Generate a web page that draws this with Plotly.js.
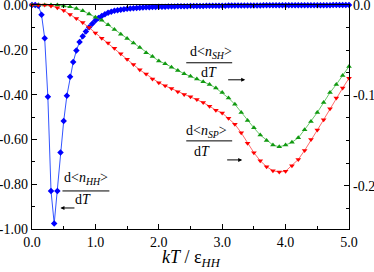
<!DOCTYPE html>
<html>
<head>
<meta charset="utf-8">
<script src="https://cdn.plot.ly/plotly-3.0.1.min.js"></script>
<style>html,body{margin:0;padding:0;background:#fff;}#chart{width:374px;height:272px;}</style>
</head>
<body>
<div id="chart"></div>
<script>
// ---- data ----
const xHH = [0.00,0.05,0.10,0.15,0.20,0.25,0.30,0.35,0.40,0.45,0.50,0.55,0.60,0.65,0.70,0.75,0.80,0.85,0.90,0.95,
1.00,1.05,1.10,1.15,1.20,1.25,1.30,1.35,1.40,1.45,1.50,1.55,1.60,1.65,1.70,1.75,1.80,1.85,1.90,1.95,
2.00,2.05,2.10,2.15,2.20,2.25,2.30,2.35,2.40,2.45,2.50,2.55,2.60,2.65,2.70,2.75,2.80,2.85,2.90,2.95,
3.00,3.05,3.10,3.15,3.20,3.25,3.30,3.35,3.40,3.45,3.50,3.55,3.60,3.65,3.70,3.75,3.80,3.85,3.90,3.95,
4.00,4.05,4.10,4.15,4.20,4.25,4.30,4.35,4.40,4.45,4.50,4.55,4.60,4.65,4.70,4.75,4.80,4.85,4.90,4.95,5.00];
const dnHH = [0,0,-0.003,-0.043,-0.148,-0.41,-0.83,-0.976,-0.83,-0.658,-0.518,-0.405,-0.32,-0.255,-0.203,-0.165,-0.14,-0.118,-0.099,-0.084,
-0.069,-0.058,-0.049,-0.041,-0.035,-0.030,-0.026,-0.023,-0.021,-0.019,-0.017,-0.0155,-0.014,-0.013,-0.012,-0.011,-0.010,-0.0095,-0.009,-0.0085,
-0.008,-0.0077,-0.0073,-0.007,-0.0066,-0.0063,-0.006,-0.0057,-0.0054,-0.0051,-0.0048,-0.0046,-0.0044,-0.0042,-0.004,-0.0038,-0.0036,-0.0034,-0.0032,-0.003,
-0.0029,-0.0028,-0.0027,-0.0026,-0.0025,-0.0024,-0.0023,-0.0022,-0.0021,-0.002,-0.0019,-0.0018,-0.0017,-0.0016,-0.0015,-0.0014,-0.0013,-0.0013,-0.0012,-0.0012,
-0.0011,-0.0011,-0.001,-0.001,-0.0009,-0.0009,-0.0008,-0.0008,-0.0008,-0.0007,-0.0007,-0.0007,-0.0006,-0.0006,-0.0006,-0.0005,-0.0005,-0.0005,-0.0005,-0.0004,-0.0004];

const xS = [0.0,0.1,0.2,0.3,0.4,0.5,0.6,0.7,0.8,0.9,1.0,1.1,1.2,1.3,1.4,1.5,1.6,1.7,1.8,1.9,
2.0,2.1,2.2,2.3,2.4,2.5,2.6,2.7,2.8,2.9,3.0,3.1,3.2,3.3,3.4,3.5,3.6,3.7,3.8,3.9,
4.0,4.1,4.2,4.3,4.4,4.5,4.6,4.7,4.8,4.9,5.0];
const dnSH = [0,0,0,0,0,-0.001,-0.002,-0.004,-0.0065,-0.010,-0.0135,-0.017,-0.022,-0.027,-0.0325,-0.037,-0.042,-0.047,-0.053,-0.057,
-0.062,-0.065,-0.069,-0.0725,-0.076,-0.079,-0.082,-0.085,-0.088,-0.092,-0.097,-0.103,-0.110,-0.119,-0.128,-0.136,-0.144,-0.150,-0.155,-0.157,
-0.155,-0.152,-0.147,-0.138,-0.129,-0.119,-0.108,-0.097,-0.088,-0.078,-0.068];
const dnSP = [0,0,0,-0.001,-0.003,-0.006,-0.0105,-0.015,-0.0195,-0.025,-0.031,-0.0367,-0.042,-0.048,-0.054,-0.060,-0.066,-0.0718,-0.0765,-0.082,
-0.086,-0.0895,-0.0925,-0.096,-0.099,-0.1015,-0.1045,-0.108,-0.112,-0.1165,-0.1195,-0.1255,-0.132,-0.1415,-0.153,-0.1635,-0.1725,-0.179,-0.1835,-0.185,
-0.184,-0.178,-0.171,-0.161,-0.149,-0.1385,-0.127,-0.115,-0.103,-0.092,-0.081];

const xTickVals = [0,1,2,3,4,5];
const xTickText = ['0.0','1.0','2.0','3.0','4.0','5.0'];
const yTickVals = [0,-0.2,-0.4,-0.6,-0.8,-1.0];
const yTickText = ['0.00','-0.20','-0.40','-0.60','-0.80','-1.00'];
const y2TickVals = [0,-0.1,-0.2];
const y2TickText = ['0.0','-0.1','-0.2'];
const xTitle = '<i>kT</i> / ε<sub><i>HH</i></sub>';

// ---- layout helpers ----
const W = 374, H = 272, L = 31.5, R = 349, T = 5.3, B = 229;
const px = v => (v - L) / (R - L);
const py = v => (B - v) / (B - T);
const serif = '"Liberation Serif", "Times New Roman", Times, serif';

const traces = [
  {x: xHH, y: dnHH, type: 'scatter', mode: 'lines+markers', yaxis: 'y', cliponaxis: false,
   line: {color: '#3355ff', width: 1}, marker: {symbol: 'diamond', size: 5, color: '#0000ff'}},
  {x: xS, y: dnSH, type: 'scatter', mode: 'lines+markers', yaxis: 'y2', cliponaxis: false,
   line: {color: '#44bb44', width: 0.8}, marker: {symbol: 'triangle-up', size: 5, color: '#119911'}},
  {x: xS, y: dnSP, type: 'scatter', mode: 'lines+markers', yaxis: 'y2', cliponaxis: false,
   line: {color: '#ff4444', width: 0.8}, marker: {symbol: 'triangle-down', size: 5, color: '#ff0000'}}
];

function frac(num, cx1, ny, cx2, dy, lx0, lx1, ly) {
  return {
    ann: [
      {xref: 'paper', yref: 'paper', x: px(cx1), y: py(ny), text: num, showarrow: false,
       xanchor: 'center', yanchor: 'middle', font: {family: serif, size: 14, color: '#000'}},
      {xref: 'paper', yref: 'paper', x: px(cx2), y: py(dy), text: 'd<i>T</i>', showarrow: false,
       xanchor: 'center', yanchor: 'middle', font: {family: serif, size: 14, color: '#000'}}
    ],
    shape: {type: 'line', xref: 'paper', yref: 'paper', x0: px(lx0), x1: px(lx1), y0: py(ly), y1: py(ly),
            line: {color: '#000', width: 1}}
  };
}
function arrow(hx, hy, tx, ty) {
  return {xref: 'paper', yref: 'paper', x: px(hx), y: py(hy), ax: tx - hx, ay: ty - hy,
          axref: 'pixel', ayref: 'pixel', text: ' ', showarrow: true,
          arrowhead: 2, arrowsize: 0.8, arrowwidth: 1, arrowcolor: '#000'};
}

const fSH = frac('d&lt;<i>n</i><sub><i>SH</i></sub>&gt;', 210.5, 53, 209, 73, 186, 232, 63);
const fSP = frac('d&lt;<i>n</i><sub><i>SP</i></sub>&gt;', 206, 132, 201.5, 152, 186, 232, 141);
const fHH = frac('d&lt;<i>n</i><sub><i>HH</i></sub>&gt;', 85.5, 179, 82.5, 200, 62, 109, 191);

const titleAnn = {xref: 'paper', yref: 'paper', x: px(191), y: py(258), text: xTitle, showarrow: false,
  xanchor: 'center', yanchor: 'middle', font: {family: serif, size: 18, color: '#000'}};

const annotations = [].concat(fSH.ann, fSP.ann, fHH.ann,
  [arrow(245, 80, 225, 80), arrow(242, 160, 224, 160), arrow(60, 208, 77, 208), titleAnn]);

const axisCommon = {showline: true, linecolor: '#000', linewidth: 1.2, zeroline: false, showgrid: false,
  ticks: 'inside', ticklen: 5, tickcolor: '#000', tickwidth: 1, tickmode: 'array',
  ticklabeloverflow: 'allow',
  tickfont: {family: serif, size: 14, color: '#000'}};

const layout = {
  width: W, height: H,
  margin: {l: L, r: W - R, t: T, b: H - B, pad: 0},
  paper_bgcolor: '#fff', plot_bgcolor: '#fff',
  showlegend: false,
  xaxis: Object.assign({}, axisCommon, {
    range: [0, 5], tickvals: xTickVals, ticktext: xTickText, mirror: 'ticks',
    minor: {tickmode: 'linear', tick0: 0, dtick: 0.5, ticks: 'inside', ticklen: 3, tickcolor: '#000'}
  }),
  yaxis: Object.assign({}, axisCommon, {
    range: [-1, 0], tickvals: yTickVals, ticktext: yTickText, mirror: false,
    minor: {tickmode: 'linear', tick0: 0, dtick: 0.1, ticks: 'inside', ticklen: 3, tickcolor: '#000'}
  }),
  yaxis2: Object.assign({}, axisCommon, {
    range: [-0.248, 0], tickvals: y2TickVals, ticktext: y2TickText, overlaying: 'y', side: 'right',
    minor: {tickmode: 'linear', tick0: 0, dtick: 0.025, ticks: 'inside', ticklen: 3, tickcolor: '#000'}
  }),
  annotations: annotations,
  shapes: [fSH.shape, fSP.shape, fHH.shape]
};

Plotly.newPlot('chart', traces, layout, {displayModeBar: false, staticPlot: true});
</script>
</body>
</html>
